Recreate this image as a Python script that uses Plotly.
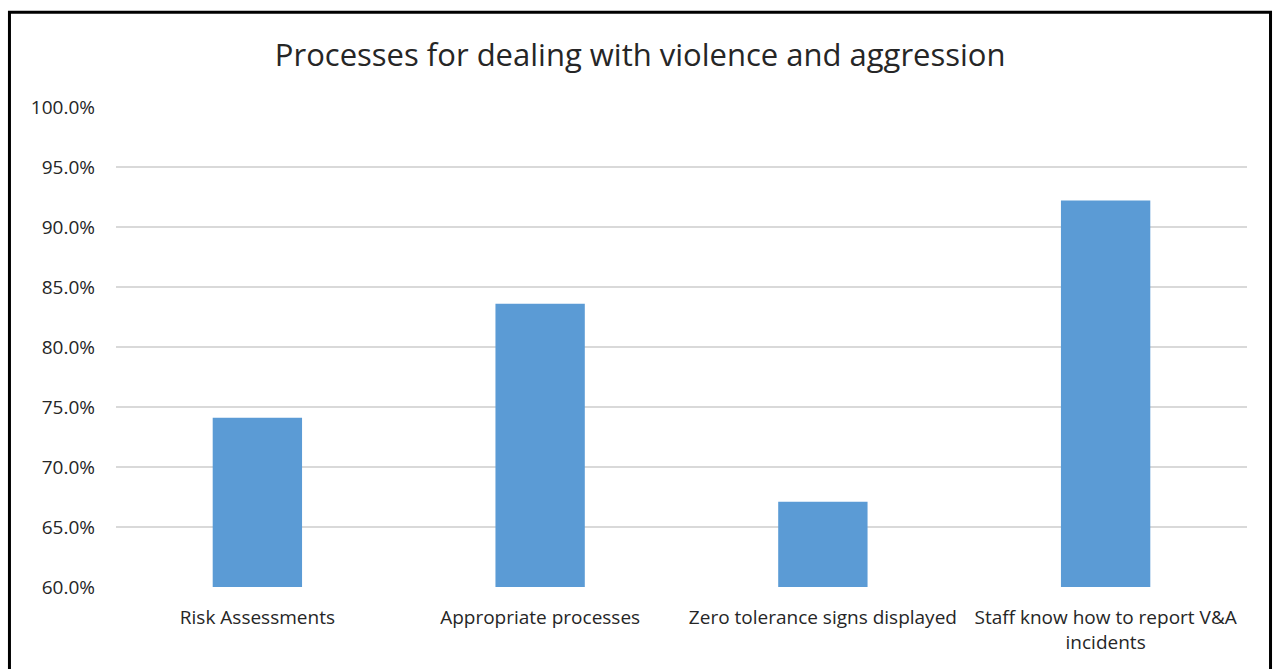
import plotly.graph_objects as go

categories = [
    "Risk Assessments",
    "Appropriate processes",
    "Zero tolerance signs displayed",
    "Staff know how to report V&A<br>incidents",
]
shares = [0.741, 0.836, 0.671, 0.922]
y_ticks = [0.60, 0.65, 0.70, 0.75, 0.80, 0.85, 0.90, 0.95, 1.00]

fig = go.Figure(
    go.Bar(
        x=categories,
        y=shares,
        marker=dict(color="#5b9bd5", line=dict(width=0)),
    )
)

fig.update_layout(
    width=1274,
    height=669,
    margin=dict(l=116, r=27, t=107, b=82),
    paper_bgcolor="white",
    plot_bgcolor="white",
    bargap=0.684,
    showlegend=False,
    font=dict(family="Open Sans", color="#404040"),
    title=dict(
        text="Processes for dealing with violence and aggression",
        x=0.5025,
        xanchor="center",
        y=0.918,
        yanchor="middle",
        font=dict(family="Open Sans", size=31, color="#262626"),
    ),
    xaxis=dict(
        showgrid=False,
        showline=False,
        ticks="",
        tickfont=dict(size=19, color="#262626"),
        ticklabelstandoff=17,
    ),
    yaxis=dict(
        range=[0.6, 1.0],
        tickvals=y_ticks,
        tickformat=".1%",
        showgrid=True,
        gridcolor="#d9d9d9",
        gridwidth=1.5,
        zeroline=False,
        showline=False,
        ticks="",
        tickfont=dict(size=19, color="#262626"),
        ticklabelstandoff=20,
    ),
    shapes=[
        dict(
            type="rect",
            xref="paper",
            yref="paper",
            x0=-0.0942,
            x1=1.0208,
            y0=-0.3,
            y1=1.1975,
            line=dict(color="black", width=3),
            fillcolor="rgba(0,0,0,0)",
            layer="above",
        )
    ],
)

fig.write_html("out.html")
